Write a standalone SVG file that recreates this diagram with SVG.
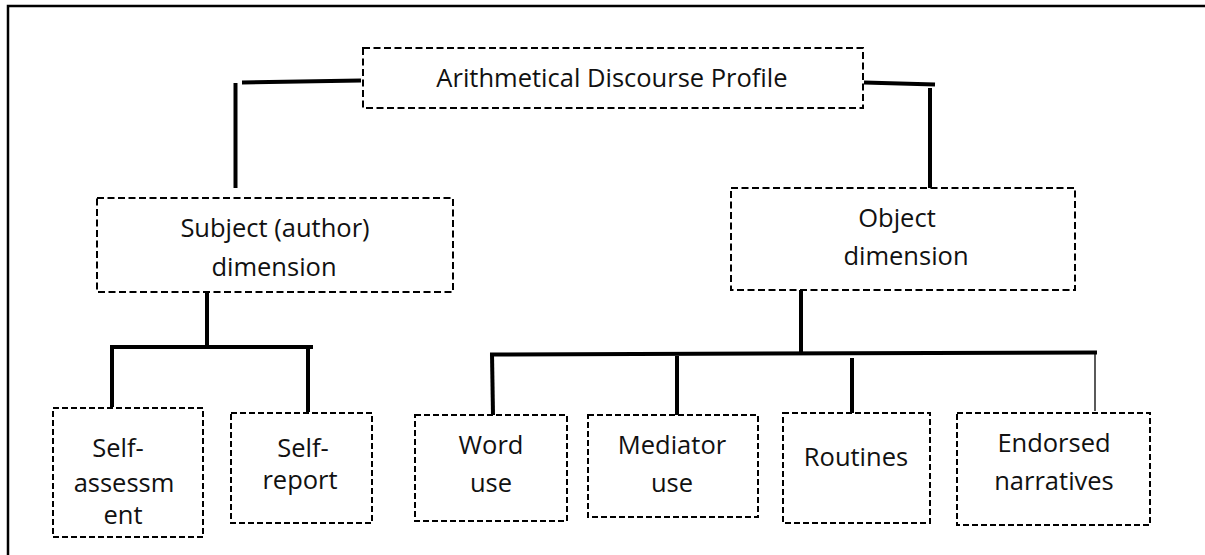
<svg xmlns="http://www.w3.org/2000/svg" width="1205" height="555" viewBox="0 0 1205 555">
  <style>
    .frame { fill: none; stroke: #000; stroke-width: 2.5; }
    .box { fill: #fff; stroke: #000; stroke-width: 2; stroke-dasharray: 7 3.5; }
    .box.small { stroke-dasharray: 6 3; }
    .link { fill: none; stroke: #000; stroke-width: 4; stroke-linecap: butt; }
    .link.thin { stroke-width: 1.3; }
    text { font-family: "Open Sans", "Liberation Sans", sans-serif; font-size: 25.5px; fill: #111; text-anchor: middle; }
  </style>

  <!-- outer frame, running off the right and bottom edges -->
  <rect class="frame" x="8" y="6" width="1215" height="570"/>

  <!-- connectors -->
  <g id="connectors">
    <!-- root to the two dimensions -->
    <line class="link" x1="242" y1="82.5" x2="361" y2="80.5"/>
    <line class="link" x1="235.5" y1="83" x2="235.5" y2="188"/>
    <line class="link" x1="864" y1="82.5" x2="935" y2="84.5"/>
    <line class="link" x1="930" y1="88" x2="930" y2="188"/>
    <!-- subject dimension branch -->
    <line class="link" x1="207" y1="292" x2="207" y2="347"/>
    <line class="link" x1="110" y1="347" x2="313" y2="347"/>
    <line class="link" x1="112" y1="345" x2="112" y2="407"/>
    <line class="link" x1="308" y1="347" x2="308" y2="412"/>
    <!-- object dimension branch -->
    <line class="link" x1="801" y1="290" x2="801" y2="354"/>
    <line class="link" x1="490" y1="354.5" x2="1097" y2="352.5"/>
    <line class="link" x1="492" y1="354" x2="493" y2="415"/>
    <line class="link" x1="677" y1="356" x2="677" y2="415"/>
    <line class="link" x1="852" y1="358" x2="852" y2="413"/>
    <line class="link thin" x1="1095" y1="353" x2="1095" y2="411"/>
  </g>

  <g id="root">
    <rect class="box" x="363" y="48" width="500" height="60"/>
    <text x="612" y="87">Arithmetical Discourse Profile</text>
  </g>

  <g id="subject-dimension">
    <rect class="box" x="97" y="198" width="356" height="94"/>
    <text x="275" y="237">Subject (author)</text>
    <text x="274" y="276">dimension</text>
  </g>

  <g id="object-dimension">
    <rect class="box" x="731" y="188" width="344" height="102"/>
    <text x="897" y="227">Object</text>
    <text x="906" y="265">dimension</text>
  </g>

  <g id="self-assessment">
    <rect class="box small" x="53" y="408" width="150" height="129"/>
    <text x="118" y="457">Self-</text>
    <text x="124" y="492">assessm</text>
    <text x="123" y="524">ent</text>
  </g>

  <g id="self-report">
    <rect class="box small" x="231" y="413" width="141" height="110"/>
    <text x="303" y="457">Self-</text>
    <text x="300" y="489">report</text>
  </g>

  <g id="word-use">
    <rect class="box small" x="415" y="415" width="152" height="106"/>
    <text x="491" y="454">Word</text>
    <text x="491" y="492">use</text>
  </g>

  <g id="mediator-use">
    <rect class="box small" x="588" y="415" width="170" height="102"/>
    <text x="672" y="454">Mediator</text>
    <text x="672" y="492">use</text>
  </g>

  <g id="routines">
    <rect class="box small" x="783" y="413" width="147" height="110"/>
    <text x="856" y="466">Routines</text>
  </g>

  <g id="endorsed-narratives">
    <rect class="box small" x="957" y="413" width="193" height="112"/>
    <text x="1054" y="452">Endorsed</text>
    <text x="1054" y="490">narratives</text>
  </g>
</svg>
